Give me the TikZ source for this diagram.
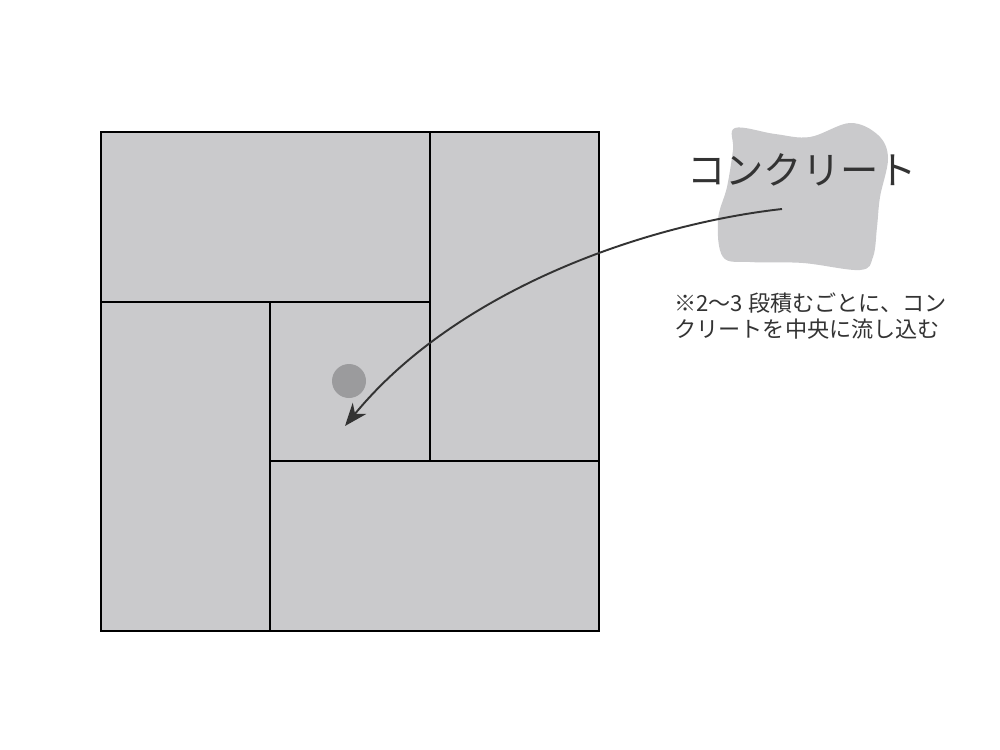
\documentclass[tikz,border=0pt]{standalone}
\usepackage{fontspec}
\newfontfamily\jpfont{Noto Sans CJK JP}
\usetikzlibrary{arrows.meta}
\definecolor{panel}{HTML}{CACACC}
\definecolor{dot}{HTML}{9B9B9D}
\definecolor{ink}{HTML}{333333}
\tikzset{
  panelline/.style={draw=black, line width=0.8pt},
  connector/.style={draw=ink, line width=1.1pt, -{Stealth[length=13pt, width=10pt, inset=4pt]}},
  bigtext/.style={font=\jpfont\fontsize{21.8pt}{26pt}\selectfont, text=ink, inner sep=0pt},
  notetext/.style={font=\jpfont\fontsize{12.6pt}{15.3pt}\selectfont, text=ink, inner sep=0pt, align=left, anchor=north west}
}
\begin{document}
\begin{tikzpicture}[x=0.02cm, y=-0.02cm]
\useasboundingbox (0,0) rectangle (1000,750);
% blob
\fill[panel] plot[smooth cycle, tension=0.6] coordinates {(735,128) (775,134) (810,137) (850,123) (878,135) (888,158) (880,197) (877,227) (873,257) (860,270) (803,263) (750,262) (723,257) (718,220) (727,187) (733,150)};
% panels
\fill[panel] (101,132) rectangle (599,631);
\draw[panelline] (101,132) rectangle (599,631);
\draw[panelline] (430,132) -- (430,461);
\draw[panelline] (101,302) -- (430,302);
\draw[panelline] (270,302) -- (270,631);
\draw[panelline] (270,461) -- (599,461);
\fill[dot] (349,381) circle (17);
% label
\node[bigtext] (concrete) at (802,170) {コンクリート};
\node[notetext] (note) at (674,292) {※2〜3 段積むごとに、コン\\クリートを中央に流し込む};
\coordinate (src) at (782,209);
\coordinate (dst) at (345,426);
\draw[connector] (src) .. controls (640,225) and (455,292) .. (dst);
\end{tikzpicture}
\end{document}
